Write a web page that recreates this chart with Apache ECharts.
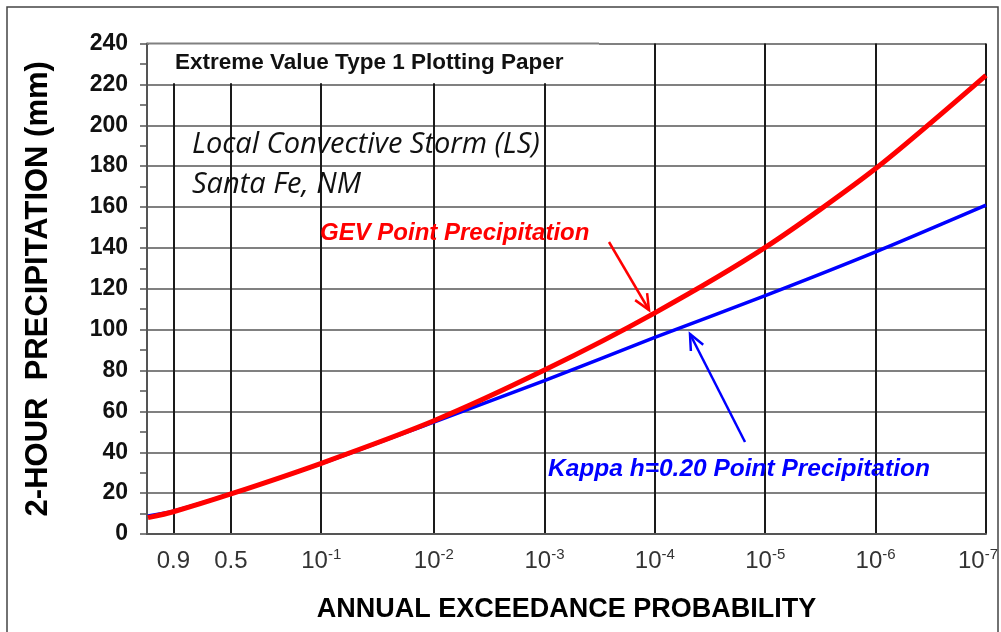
<!DOCTYPE html>
<html><head><meta charset="utf-8">
<script src="https://cdn.jsdelivr.net/npm/echarts@6/dist/echarts.min.js"></script>
<style>html,body{margin:0;padding:0;background:#fff}#c{width:1001px;height:632px}</style>
</head><body><div id="c"></div>
<script>
// Annual exceedance probabilities at which the curves were read
const aep = [0.98, 0.9, 0.5, 0.1, 0.01, 1e-3, 1e-4, 1e-5, 1e-6, 1e-7];
// 2-hour precipitation (mm)
const gevPrecip   = [8.0, 10.9, 19.6, 34.6, 55.4, 80.2, 108.2, 140.2, 178.8, 224.4];
const kappaPrecip = [8.8, 11.2, 19.6, 34.4, 54.8, 75.0, 96.2, 116.6, 138.0, 160.9];
// x-axis ticks (Extreme Value Type 1 / Gumbel paper)
const tickAep  = [0.9, 0.5, 0.1, 0.01, 1e-3, 1e-4, 1e-5, 1e-6, 1e-7];
const tickBase = ['0.9', '0.5', '10', '10', '10', '10', '10', '10', '10'];
const tickExp  = ['', '', '-1', '-2', '-3', '-4', '-5', '-6', '-7'];

// Gumbel reduced variate of the non-exceedance probability
const gumbel = p => -Math.log(-Math.log(1 - p));
const tickPos = tickAep.map(gumbel);

const chart = echarts.init(document.getElementById('c'), null, {renderer: 'canvas'});
const AR = 'Liberation Sans, Arial, sans-serif';

chart.setOption({
  animation: false,
  backgroundColor: '#fff',
  grid: {left: 147, right: 15, top: 43.5, bottom: 98, containLabel: false, outerBoundsMode: 'none'},
  xAxis: {
    type: 'value',
    min: -1.384,
    max: gumbel(1e-7),
    name: 'ANNUAL EXCEEDANCE PROBABILITY',
    nameLocation: 'middle',
    nameGap: 62,
    nameTextStyle: {fontFamily: AR, fontWeight: 'bold', fontSize: 27, color: '#000'},
    axisLine: {show: true, onZero: false, lineStyle: {color: '#555', width: 2}},
    axisTick: {show: false, customValues: tickPos},
    splitLine: {show: true, lineStyle: {color: '#1a1a1a', width: 2}},
    axisLabel: {
      customValues: tickPos,
      margin: 13,
      formatter: function (v) {
        let best = 0;
        for (let i = 0; i < tickPos.length; i++) {
          if (Math.abs(tickPos[i] - v) < Math.abs(tickPos[best] - v)) best = i;
        }
        if (!tickExp[best]) return '{b|' + tickBase[best] + '}';
        const sup = best === tickPos.length - 1 ? 's2' : 's';
        return '{b|' + tickBase[best] + '}{' + sup + '|' + tickExp[best] + '}';
      },
      rich: {
        b: {fontFamily: AR, fontSize: 24, color: '#333', lineHeight: 28},
        s: {fontFamily: AR, fontSize: 15, color: '#333', verticalAlign: 'top', lineHeight: 28, padding: [0, 0, 10, 0]},
        s2: {fontFamily: AR, fontSize: 15, color: '#333', verticalAlign: 'top', lineHeight: 28, padding: [0, 16, 10, 0]}
      }
    }
  },
  yAxis: {
    type: 'value',
    min: 0, max: 240, interval: 20,
    name: '2-HOUR  PRECIPITATION (mm)',
    nameLocation: 'middle',
    nameRotate: 90,
    nameGap: 93,
    nameTextStyle: {fontFamily: AR, fontWeight: 'bold', fontSize: 31, color: '#000'},
    axisLine: {show: true, onZero: false, lineStyle: {color: '#555', width: 2}},
    axisTick: {show: true, length: 7, lineStyle: {color: '#555', width: 1.5}},
    minorTick: {show: true, splitNumber: 2, length: 7, lineStyle: {color: '#555', width: 1.5}},
    splitLine: {show: true, lineStyle: {color: '#808080', width: 2}},
    axisLabel: {fontFamily: AR, fontWeight: 'bold', fontSize: 23, color: '#111', margin: 19}
  },
  series: [
    {
      name: 'Kappa h=0.20 Point Precipitation',
      type: 'line',
      data: aep.map((p, i) => [gumbel(p), kappaPrecip[i]]),
      smooth: 0.25,
      symbol: 'none',
      lineStyle: {color: '#0000ff', width: 3.5},
      z: 3
    },
    {
      name: 'GEV Point Precipitation',
      type: 'line',
      data: aep.map((p, i) => [gumbel(p), gevPrecip[i]]),
      smooth: 0.25,
      symbol: 'none',
      lineStyle: {color: '#ff0000', width: 5},
      z: 4
    }
  ]
});

// annotations
function arrow(x1, y1, x2, y2, color, w) {
  const a = Math.atan2(y2 - y1, x2 - x1), L = 17, sp = 0.42;
  const w1 = [x2 - L * Math.cos(a - sp), y2 - L * Math.sin(a - sp)];
  const w2 = [x2 - L * Math.cos(a + sp), y2 - L * Math.sin(a + sp)];
  return [
    {type: 'line', shape: {x1: x1, y1: y1, x2: x2, y2: y2}, style: {stroke: color, lineWidth: w}, z: 10},
    {type: 'polyline', shape: {points: [w1, [x2, y2], w2]}, style: {stroke: color, lineWidth: w, fill: null}, z: 10}
  ];
}
const yTop = chart.convertToPixel({yAxisIndex: 0}, 240);
const y220 = chart.convertToPixel({yAxisIndex: 0}, 220);
const g = [
  {type: 'rect', shape: {x: 7, y: 7, width: 991, height: 640}, style: {fill: null, stroke: '#444', lineWidth: 1.5}, z: 20},
  {type: 'rect', shape: {x: 149, y: yTop - 2, width: 450, height: y220 - yTop + 0.8}, style: {fill: '#fff'}, z: 5},
  {type: 'line', shape: {x1: 147, y1: yTop, x2: 599, y2: yTop}, style: {stroke: '#808080', lineWidth: 2}, z: 6},
  {type: 'text', x: 175, y: 63, style: {text: 'Extreme Value Type 1 Plotting Paper', font: 'bold 22.5px ' + AR, fill: '#111', verticalAlign: 'middle'}, z: 6},
  {type: 'text', x: 192, y: 145, style: {text: 'Local Convective Storm (LS)', font: 'italic 29px "Open Sans", sans-serif', fill: '#111', verticalAlign: 'middle'}, z: 6},
  {type: 'text', x: 192, y: 185, style: {text: 'Santa Fe, NM', font: 'italic 29px "Open Sans", sans-serif', fill: '#111', verticalAlign: 'middle'}, z: 6},
  {type: 'text', x: 320, y: 233, style: {text: 'GEV Point Precipitation', font: 'italic bold 24px ' + AR, fill: '#ff0000', verticalAlign: 'middle'}, z: 6},
  {type: 'text', x: 548, y: 469, style: {text: 'Kappa h=0.20 Point Precipitation', font: 'italic bold 24.5px ' + AR, fill: '#0000ff', verticalAlign: 'middle'}, z: 6}
].concat(arrow(609, 242, 649, 310, '#ff0000', 2.5), arrow(745, 442, 690, 334, '#0000ff', 2.5));
chart.setOption({graphic: {elements: g}});
</script>
</body></html>
